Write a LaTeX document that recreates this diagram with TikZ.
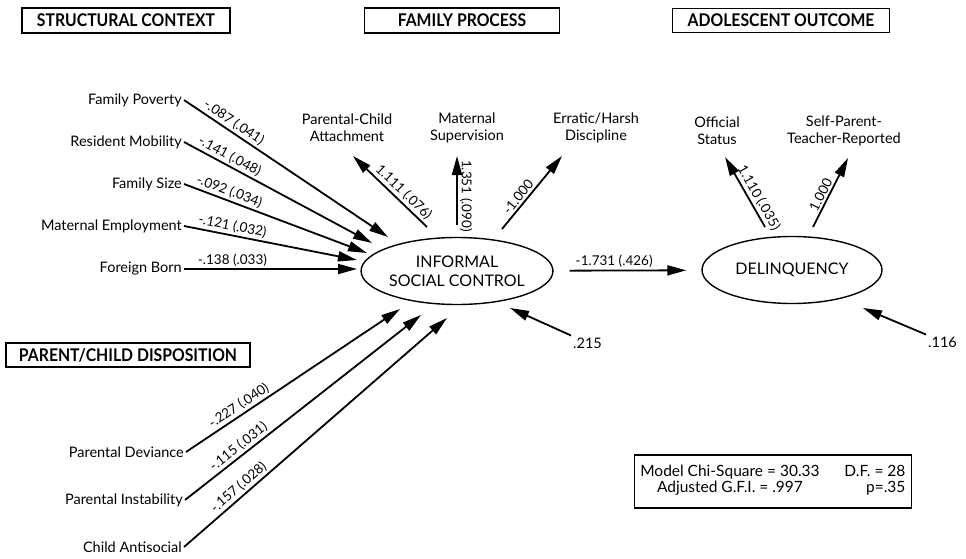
\documentclass[tikz,border=0pt]{standalone}
\usepackage{fontspec}
\setmainfont{Lato}
\newfontfamily\headfont{Lato}[FakeStretch=0.9]
\usetikzlibrary{arrows.meta,shapes.geometric}

\begin{document}
\begin{tikzpicture}
[x=1pt, y=-1pt, font=\fontsize{14.5}{17}\selectfont]
\tikzstyle{heading}=[draw, line width=1.2pt, inner xsep=4pt, inner ysep=3pt, font=\headfont\bfseries\fontsize{17.5}{19}\selectfont]
\tikzstyle{var}=[inner sep=2pt, align=center]
\tikzstyle{latent}=[ellipse, draw, line width=1.4pt, minimum width=180, minimum height=67, inner sep=0pt, align=center, font=\fontsize{16}{19}\selectfont]
\tikzstyle{path}=[line width=1.8pt, -{Triangle[length=19pt, width=10pt]}]
\tikzstyle{coef}=[font=\fontsize{13.5}{15}\selectfont, sloped, above, inner sep=2pt]
\tikzstyle{coefv}=[font=\fontsize{13.5}{15}\selectfont, rotate=-90, above, inner sep=2pt]
\useasboundingbox (0,0) rectangle (966,559);

% block headings
\node[heading, minimum width=208, minimum height=25] (SC)  at (126,20.5) {STRUCTURAL CONTEXT};
\node[heading, minimum width=195, minimum height=25] (FPR) at (462,20.5) {FAMILY PROCESS};
\node[heading, minimum width=217, minimum height=24] (AO)  at (781,20.5) {ADOLESCENT OUTCOME};
\node[heading, minimum width=244, minimum height=24] (PCD) at (128,355) {PARENT/CHILD DISPOSITION};

% latent constructs
\node[latent] (ISC) at (457,271) {INFORMAL\\SOCIAL CONTROL};
\node[latent] (DEL) at (792,270) {DELINQUENCY};

% exogenous variables
\node[var, anchor=east] (FamPov) at (184,100) {Family Poverty};
\node[var, anchor=east] (ResMob) at (184,142) {Resident Mobility};
\node[var, anchor=east] (FamSiz) at (184,184) {Family Size};
\node[var, anchor=east] (MatEmp) at (184,226) {Maternal Employment};
\node[var, anchor=east] (ForBor) at (184,269) {Foreign Born};
\node[var, anchor=east] (ParDev) at (186,452) {Parental Deviance};
\node[var, anchor=east] (ParIns) at (185,500) {Parental Instability};
\node[var, anchor=east] (ChiAnt) at (184,547) {Child Antisocial};

% indicators
\node[var] (PCA) at (347,128) {Parental-Child\\Attachment};
\node[var] (MS)  at (467,128) {Maternal\\Supervision};
\node[var] (EHD) at (596,128) {Erratic/Harsh\\Discipline};
\node[var] (OS)  at (717,131) {Official\\Status};
\node[var] (SPT) at (844,131) {Self-Parent-\\Teacher-Reported};

% residuals
\node[var, anchor=west] (rI) at (571,343) {.215};
\node[var, anchor=west] (rD) at (926,342) {.116};

% arrow ends
\coordinate (t1) at (388,237);
\coordinate (t2) at (372,243);
\coordinate (t3) at (367,253);
\coordinate (t4) at (357,260);
\coordinate (t5) at (357,269);
\coordinate (b1) at (400,309);
\coordinate (b2) at (421,315);
\coordinate (b3) at (447,318);
\coordinate (f1) at (427,227);
\coordinate (f2) at (457,225);
\coordinate (f3) at (502,229);
\coordinate (g1) at (353,156);
\coordinate (g2) at (457,156);
\coordinate (g3) at (562,156);
\coordinate (o1) at (765,227);
\coordinate (o2) at (813,227);
\coordinate (h1) at (725,157);
\coordinate (h2) at (848,158);
\coordinate (e1) at (510,308);
\coordinate (e2) at (863,308);

\draw[path] (FamPov.east) -- node[coef, pos=0.22] {-.087 (.041)} (t1);
\draw[path] (ResMob.east) -- node[coef, pos=0.22] {-.141 (.048)} (t2);
\draw[path] (FamSiz.east) -- node[coef, pos=0.23] {-.092 (.034)} (t3);
\draw[path] (MatEmp.east) -- node[coef, pos=0.27] {-.121 (.032)} (t4);
\draw[path] (ForBor.east) -- node[coef, pos=0.28] {-.138 (.033)} (t5);
\draw[path] (ParDev.east) -- node[coef, pos=0.27] {-.227 (.040)} (b1);
\draw[path] (ParIns.east) -- node[coef, pos=0.25] {-.115 (.031)} (b2);
\draw[path] (ChiAnt.east) -- node[coef, pos=0.23] {-.157 (.028)} (b3);

\draw[path] (f1) -- node[coef, pos=0.4] {1.111 (.076)} (g1);
\draw[path] (f2) -- node[coefv, pos=0.42] {1.351 (.090)} (g2);
\draw[path] (f3) -- node[coef, pos=0.37] {-1.000} (g3);
\draw[path] (o1) -- node[coef, pos=0.35] {1.110 (.035)} (h1);
\draw[path] (o2) -- node[coef, pos=0.42] {1.000} (h2);

\draw[path, shorten <=16pt, shorten >=15pt] (ISC) -- node[coef, pos=0.41] {-1.731 (.426)} (DEL);
\draw[path] (rI.north west) -- (e1);
\draw[path] (rD.north west) -- (e2);

% fit statistics
\node[draw, line width=1.2pt, anchor=east, inner xsep=6pt, inner ysep=0pt, minimum height=53] (fit) at (912,481.5)
  {\fontsize{15.5}{16}\selectfont
   \begin{tabular}{@{}c@{\hspace{1.6em}}r@{}}
   Model Chi-Square = 30.33 & D.F. = 28\\
   Adjusted G.F.I. = .997 & p=.35
   \end{tabular}};
\end{tikzpicture}
\end{document}
